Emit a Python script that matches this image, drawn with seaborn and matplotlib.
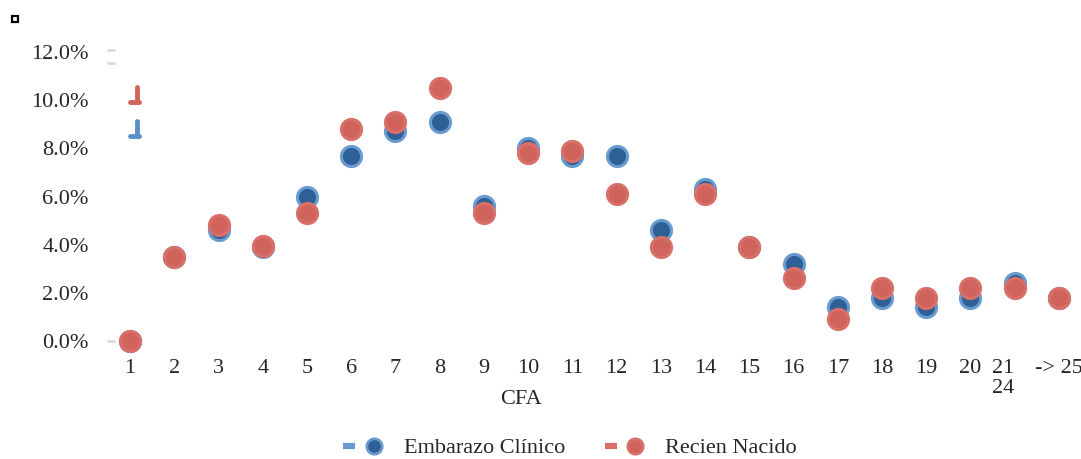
import numpy as np
import pandas as pd
import matplotlib
matplotlib.use("Agg")
import matplotlib.pyplot as plt
import seaborn as sns
from matplotlib.lines import Line2D
from matplotlib.patches import Rectangle
from matplotlib.legend_handler import HandlerTuple
from matplotlib.ticker import FuncFormatter

# CFA categories and share (%) per series
categories = ["1", "2", "3", "4", "5", "6", "7", "8", "9", "10", "11", "12",
              "13", "14", "15", "16", "17", "18", "19", "20", "21\n24", "-> 25"]
embarazo_clinico = [0.0, 3.5, 4.6, 3.9, 6.0, 7.7, 8.7, 9.1, 5.6, 8.0, 7.7, 7.7,
                    4.6, 6.3, 3.9, 3.2, 1.4, 1.8, 1.4, 1.8, 2.4, 1.8]
recien_nacido = [0.0, 3.5, 4.8, 3.95, 5.3, 8.8, 9.1, 10.5, 5.3, 7.8, 7.9, 6.1,
                 3.9, 6.1, 3.9, 2.6, 0.9, 2.2, 1.8, 2.2, 2.2, 1.8]

series_names = ["Embarazo Clínico", "Recien Nacido"]

df = pd.DataFrame({
    "pos": np.tile(np.arange(len(categories)), 2),
    "valor": embarazo_clinico + recien_nacido,
    "serie": np.repeat(series_names, len(categories)),
})

sns.set_theme(style="white")
plt.rcParams["font.family"] = ["Liberation Serif", "DejaVu Serif"]

W, H = 1081, 459
fig = plt.figure(figsize=(W / 100, H / 100), dpi=100)
ax = fig.add_axes([108 / W, (H - 341) / H, 1 - 108 / W, (341 - 52) / H])

fills = {"Embarazo Clínico": "#2e5f96", "Recien Nacido": "#d0635c"}
edges = {"Embarazo Clínico": "#6a9bd0", "Recien Nacido": "#d86f68"}
dashes = {"Embarazo Clínico": "#6a9bd0", "Recien Nacido": "#d86f68"}

for name in series_names:
    sub = df[df["serie"] == name]
    sns.scatterplot(data=sub, x="pos", y="valor", ax=ax, s=210,
                    color=fills[name], edgecolor=edges[name], linewidth=2.2,
                    clip_on=False, zorder=3, legend=False)

ax.set_xlim(-0.5, len(categories) - 0.5)
ax.set_ylim(0, 12)
ax.set_yticks(np.arange(0, 12.1, 2))
ax.yaxis.set_major_formatter(FuncFormatter(lambda v, _: f"{v:.1f}%"))
ax.set_xticks(np.arange(len(categories)))
ax.set_xticklabels(categories, va="top", linespacing=1.05)
ax.tick_params(axis="y", labelsize=16, pad=14, length=0)
ax.tick_params(axis="x", labelsize=16, pad=13, length=0)
xl = ax.get_xticklabels()
xl[-2].set_ha("right")
xl[-2].set_multialignment("center")
for s in ax.spines.values():
    s.set_visible(False)
ax.grid(False)
ax.set_ylabel("")
ax.set_xlabel("CFA", fontsize=16)
ax.xaxis.set_label_coords((521 - 108) / (W - 108), -(400 - 341) / (341 - 52))
ax.xaxis.label.set_va("center")


def px(x, y):
    return x / W, 1 - y / H


# small decorations at the top-left of the chart area
fig.add_artist(Rectangle(px(12, 22), 6 / W, 6 / H, transform=fig.transFigure,
                         facecolor="white", edgecolor="black", linewidth=1.6))
for yy in (50, 63, 341):
    x0, y0 = px(108, yy)
    x1, _ = px(114, yy)
    fig.add_artist(Line2D([x0, x1], [y0, y0], transform=fig.transFigure,
                          color="#d9d9d9", linewidth=2))
for (top, bot), c in (((87, 102), "#d0635c"), ((121, 136), "#5b8fc7")):
    xa, ya = px(137, top)
    _, yb = px(137, bot)
    fig.add_artist(Line2D([xa, xa], [ya, yb], transform=fig.transFigure,
                          color=c, linewidth=3.5, solid_capstyle="round"))
    xf0, _ = px(130, bot)
    xf1, _ = px(139, bot)
    fig.add_artist(Line2D([xf0, xf1], [yb, yb], transform=fig.transFigure,
                          color=c, linewidth=3.5, solid_capstyle="round"))

handles = []
for n in series_names:
    dash = Line2D([0], [0], marker="_", linestyle="none", markersize=8,
                  markeredgewidth=4.5, color=dashes[n])
    dot = Line2D([0], [0], marker="o", linestyle="none", markersize=11,
                 markerfacecolor=fills[n], markeredgecolor=edges[n],
                 markeredgewidth=2)
    handles.append((dash, dot))
fig.legend(handles, series_names, loc="center", ncol=2, frameon=False,
           fontsize=16, bbox_to_anchor=(567 / W, 1 - 448 / H),
           columnspacing=1.5, handletextpad=0.8, handlelength=2.2,
           borderpad=0, borderaxespad=0,
           handler_map={tuple: HandlerTuple(ndivide=None, pad=0.0)})

fig.savefig("out.png", dpi=100)
